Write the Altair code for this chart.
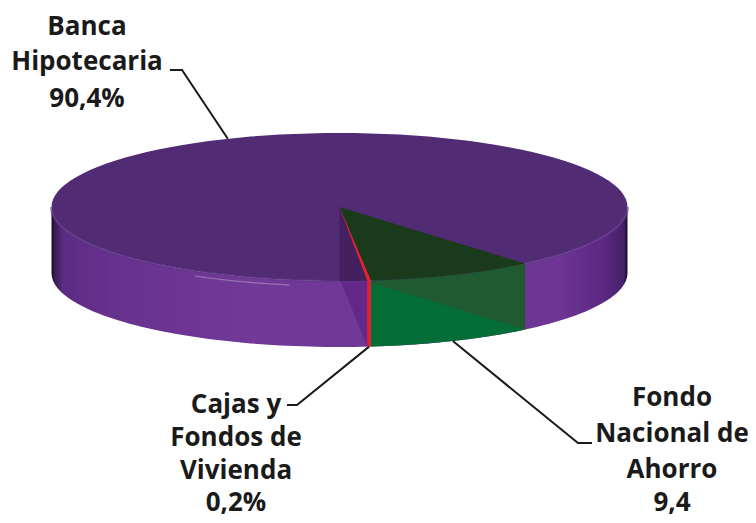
import math
import altair as alt
import pandas as pd

# Data
slices = ["Fondo Nacional de Ahorro", "Cajas y Fondos de Vivienda", "Banca Hipotecaria"]
shares = [9.4, 0.2, 90.4]
label_lines = [
    ["Fondo", "Nacional de", "Ahorro", "9,4"],
    ["Cajas y", "Fondos de", "Vivienda", "0,2%"],
    ["Banca", "Hipotecaria", "90,4%"],
]

# Layout (chart pixels = reference pixels minus the 8px page margin)
OX, OY = -8, -8
CX, CY, RX, RY, DEPTH = 339.5 + OX, 207 + OY, 288, 74, 66
START = 49.9
label_x = [672 + OX, 236 + OX, 87 + OX]
label_y = [
    [398 + OY, 434 + OY, 470 + OY, 503 + OY],
    [405 + OY, 438 + OY, 471 + OY, 503 + OY],
    [27 + OY, 62 + OY, 99 + OY],
]
elbows = [
    [(578 + OX, 443 + OY), (592 + OX, 443 + OY)],
    [(297 + OX, 405 + OY), (287 + OX, 405 + OY)],
    [(182 + OX, 70 + OY), (170 + OX, 70 + OY)],
]

# Angles derived from the shares
bounds = [START]
for s in shares:
    bounds.append(bounds[-1] + s * 3.6)


def pt(t, dy=0.0, rx=RX, ry=RY):
    r = math.radians(t)
    return [CX + rx * math.cos(r), CY + ry * math.sin(r) + dy]


def arc(a, b, dy=0.0, n=120):
    return [pt(a + (b - a) * i / n, dy) for i in range(n + 1)]


def poly(points):
    pts = [list(p) for p in points]
    pts.append(pts[0])
    return {"type": "Feature", "properties": {},
            "geometry": {"type": "Polygon", "coordinates": [pts]}}


def line(points):
    return {"type": "Feature", "properties": {},
            "geometry": {"type": "LineString", "coordinates": [list(p) for p in points]}}


PROJ = dict(type="identity", scale=1, translate=[0, 0])


def shape(feature, **mark):
    return alt.Chart(alt.Data(values=[feature])).mark_geoshape(**mark).project(**PROJ)


def fill_shape(points, fill, opacity=1.0):
    return shape(poly(points), fill=fill, stroke=None, strokeWidth=0, opacity=opacity)


apex = [CX, CY]
g0, g1, r1 = bounds[0], bounds[1], bounds[2]

side_fill = alt.Gradient(
    gradient="linear", x1=0, x2=1, y1=0, y2=0,
    stops=[
        alt.GradientStop(offset=0.0, color="#1c0f2a"),
        alt.GradientStop(offset=0.006, color="#3a1c55"),
        alt.GradientStop(offset=0.02, color="#5a2c82"),
        alt.GradientStop(offset=0.1, color="#67318e"),
        alt.GradientStop(offset=0.35, color="#723a98"),
        alt.GradientStop(offset=0.88, color="#6d3594"),
        alt.GradientStop(offset=0.96, color="#5c2882"),
        alt.GradientStop(offset=0.993, color="#47206a"),
        alt.GradientStop(offset=1.0, color="#1c0f2a"),
    ],
)

layers = []
layers.append(fill_shape(arc(0, 180) + arc(180, 0, DEPTH), side_fill))
layers.append(fill_shape(arc(g0, g1) + arc(g1, g0, DEPTH), "#056d38"))
layers.append(fill_shape(arc(g0, g1) + [pt(g1, 2), pt(g0, DEPTH)], "#1f5a30"))
layers.append(fill_shape([[CX, CY + RY - 3], pt(r1, 0), pt(r1, DEPTH)], "#64288a"))
# Top face
layers.append(fill_shape(arc(0, 360), "#512b74"))
# Soft bevel between the top face and the wall
for a, b in [(0, g0), (r1, 180)]:
    layers.append(shape(line(arc(a, b)), filled=False, fill=None,
                        stroke="#60358a", strokeWidth=3, opacity=0.5))
layers.append(fill_shape([apex, pt(r1, 0)] + arc(r1, 90, 0, 10), "#43205f"))
layers.append(fill_shape([apex] + arc(g0, g1), "#1a3a1c"))
layers.append(fill_shape([apex] + arc(g1, r1, 0, 4), "#e8202a"))
layers.append(fill_shape(arc(g1, r1, 0, 4) + arc(r1, g1, DEPTH, 4), "#e8202a"))
# Highlight
layers.append(shape(line([pt(t, 5) for t in range(100, 122, 2)]), filled=False, fill=None,
                    stroke="#ffffff", strokeWidth=1.2, opacity=0.28))

# Leader lines, anchored on each slice's mid angle
for i, el in enumerate(elbows):
    mid = (bounds[i] + bounds[i + 1]) / 2
    anchor = pt(mid, DEPTH if 0 < mid % 360 < 180 else 0)
    layers.append(shape(line([anchor] + el), filled=False, fill=None,
                        stroke="#1a1a1a", strokeWidth=2))

# Labels
rows = []
for lines, lx, ys in zip(label_lines, label_x, label_y):
    for txt, ly in zip(lines, ys):
        rows.append({"text": txt, "x": lx, "y": ly})
labels = alt.Chart(pd.DataFrame(rows)).mark_text(
    font="Open Sans", fontWeight="bold", fontSize=26, color="#1a1a1a",
    align="center", baseline="middle",
).encode(
    x=alt.X("x:Q", scale=None, axis=None),
    y=alt.Y("y:Q", scale=None, axis=None),
    text="text:N",
)
layers.append(labels)

chart = alt.layer(*layers).properties(
    width=740, height=507, padding=0, autosize="none"
).configure_view(stroke=None)

chart.save("out.html", embed_options={"renderer": "svg", "actions": False})
